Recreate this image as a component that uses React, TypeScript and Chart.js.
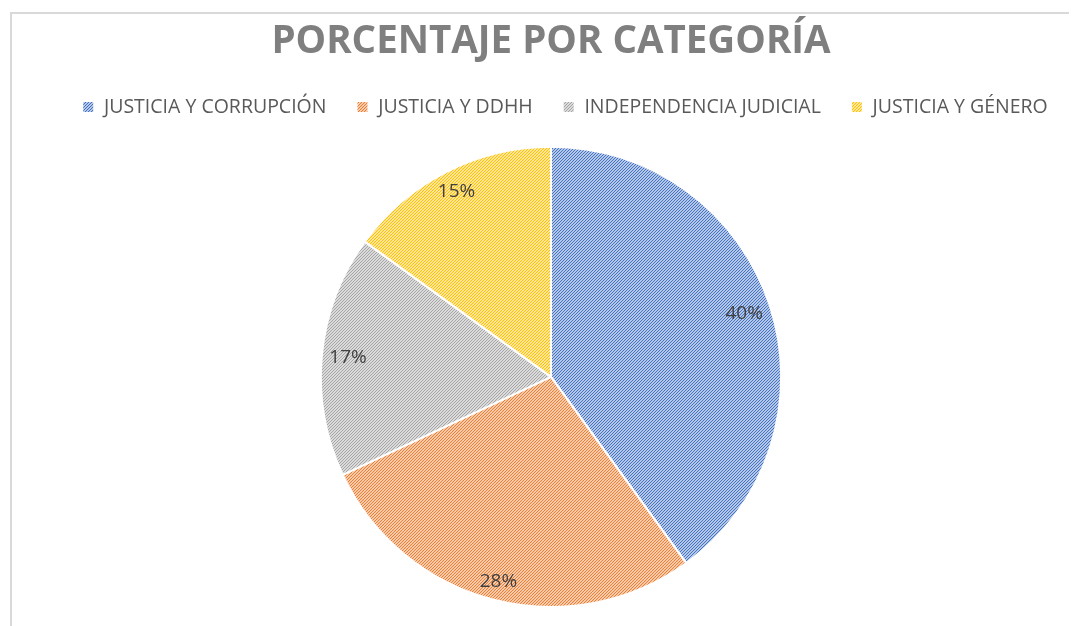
import React, { useEffect, useRef } from "react";
import { Chart, registerables } from "chart.js";

Chart.register(...registerables);

const titleText = "PORCENTAJE POR CATEGORÍA";
const categories = [
  "JUSTICIA Y CORRUPCIÓN",
  "JUSTICIA Y DDHH",
  "INDEPENDENCIA JUDICIAL",
  "JUSTICIA Y GÉNERO",
];
const percentages = [40, 28, 17, 15];
const baseColors = ["#4472C4", "#ED7D31", "#A5A5A5", "#FFC000"];
const lightColors = ["#B4C7E7", "#F8CBAD", "#DBDBDB", "#FFE699"];

const FONT = "'Open Sans', 'DejaVu Sans', sans-serif";
const LABEL_FONT_SIZE = 19;

function makePattern(fg: string, bg: string): CanvasPattern | string {
  const size = 6;
  const c = document.createElement("canvas");
  c.width = size;
  c.height = size;
  const ctx = c.getContext("2d");
  if (!ctx) return fg;
  ctx.fillStyle = bg;
  ctx.fillRect(0, 0, size, size);
  ctx.fillStyle = fg;
  for (let y = 0; y < size; y++) {
    for (let x = 0; x < size; x++) {
      if ((x + y) % 3 === 0) ctx.fillRect(x, y, 1, 1);
    }
  }
  const p = ctx.createPattern(c, "repeat");
  return p || fg;
}

const framePlugin = {
  id: "frame",
  beforeDraw(chart: any) {
    const ctx = chart.ctx;
    ctx.save();
    ctx.fillStyle = "#ffffff";
    ctx.fillRect(0, 0, chart.width, chart.height);
    ctx.strokeStyle = "#D9D9D9";
    ctx.lineWidth = 2;
    ctx.beginPath();
    ctx.moveTo(3, chart.height);
    ctx.lineTo(3, 5);
    ctx.lineTo(chart.width, 5);
    ctx.stroke();
    ctx.restore();
  },
};

const legendShiftPlugin = {
  id: "legendShift",
  afterLayout(chart: any) {
    const lg = chart.legend;
    if (lg) {
      lg.left += 14;
      lg.right += 14;
    }
  },
};

const labelPlugin = {
  id: "sliceLabels",
  afterDatasetsDraw(chart: any) {
    const ctx = chart.ctx;
    const meta = chart.getDatasetMeta(0);
    const data = chart.data.datasets[0].data as number[];
    ctx.save();
    ctx.font = `${LABEL_FONT_SIZE}px ${FONT}`;
    ctx.fillStyle = "#404040";
    ctx.textAlign = "center";
    ctx.textBaseline = "middle";
    meta.data.forEach((arc: any, i: number) => {
      const { x, y, startAngle, endAngle, outerRadius } = arc.getProps(
        ["x", "y", "startAngle", "endAngle", "outerRadius"],
        true
      );
      const text = `${data[i]}%`;
      const hw = ctx.measureText(text).width / 2;
      const hh = 7.5;
      const mid = (startAngle + endAngle) / 2;
      const dx = Math.cos(mid);
      const dy = Math.sin(mid);
      const extent = hw * Math.abs(dx) + hh * Math.abs(dy);
      const r = outerRadius * 0.97 - extent;
      ctx.fillText(text, x + dx * r, y + dy * r);
    });
    ctx.restore();
  },
};

export default function App() {
  const ref = useRef<HTMLCanvasElement | null>(null);

  useEffect(() => {
    if (!ref.current) return;
    const patterns = baseColors.map((c, i) => makePattern(c, lightColors[i]));
    const chart = new Chart(ref.current, {
      type: "pie",
      data: {
        labels: categories,
        datasets: [
          {
            data: percentages,
            backgroundColor: patterns as any,
            borderColor: "#ffffff",
            borderWidth: 2,
          },
        ],
      },
      options: {
        responsive: false,
        animation: false,
        layout: { padding: { left: 17, right: 0, top: 0, bottom: 18 } },
        plugins: {
          title: {
            display: true,
            text: titleText,
            color: "#7F7F7F",
            font: { family: FONT, size: 38.5, weight: "bold" },
            padding: { top: 11, bottom: 2 },
          },
          subtitle: {
            display: true,
            text: "",
            weight: 500,
            font: { size: 10, lineHeight: 1 },
            padding: { top: 9, bottom: 0 },
          } as any,
          legend: {
            display: true,
            position: "top",
            labels: {
              boxWidth: 12,
              boxHeight: 12,
              padding: 30,
              color: "#595959",
              font: { family: FONT, size: 19.5 },
            },
          },
          tooltip: { enabled: false },
        },
      },
      plugins: [framePlugin, legendShiftPlugin, labelPlugin],
    });
    return () => chart.destroy();
  }, []);

  return <canvas ref={ref} width={1069} height={618} style={{ display: "block" }} />;
}
